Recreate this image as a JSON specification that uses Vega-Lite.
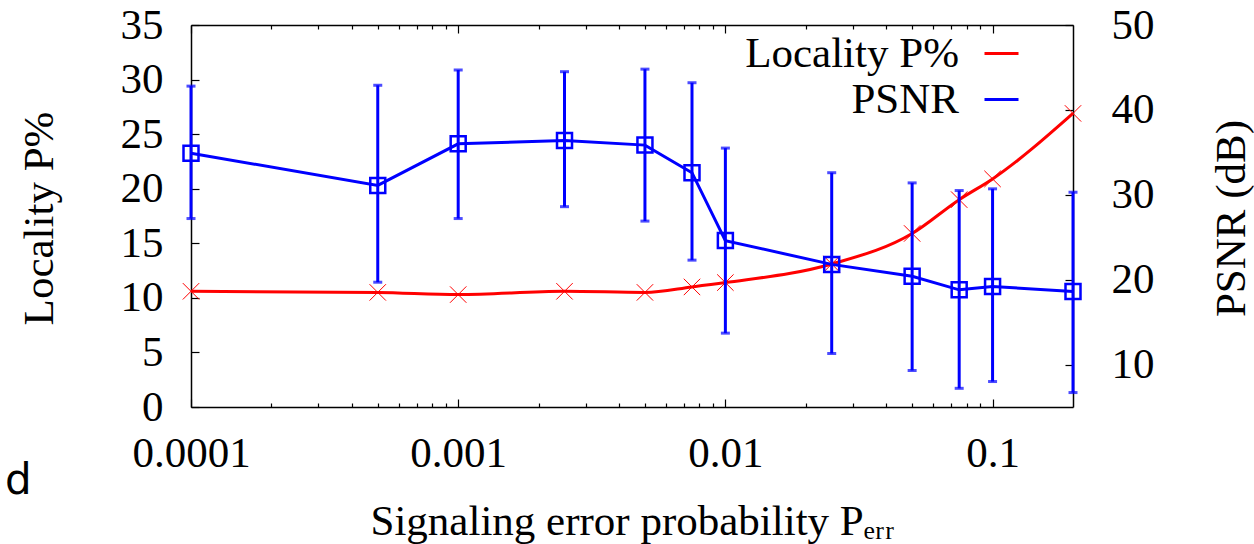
{
  "$schema": "https://vega.github.io/schema/vega-lite/v6.json",
  "width": 882,
  "height": 382,
  "autosize": {"type": "none"},
  "padding": {"left": 191, "top": 25, "right": 181, "bottom": 137},
  "background": "white",
  "config": {
    "view": {"stroke": null},
    "font": "Liberation Serif",
    "axis": {
      "domainColor": "black", "tickColor": "black", "labelColor": "black", "titleColor": "black",
      "labelFont": "Liberation Serif", "titleFont": "Liberation Serif",
      "labelFontSize": 43, "titleFontSize": 43, "titleFontWeight": "normal",
      "grid": false, "domainWidth": 1.5, "tickWidth": 1.2, "labelFlush": false, "labelOverlap": false
    }
  },
  "title": {
    "text": "d", "orient": "bottom", "anchor": "start", "frame": "group",
    "font": "DejaVu Sans", "fontSize": 42, "fontWeight": "normal", "color": "black",
    "dx": -186, "dy": -82, "offset": 0
  },
  "datasets": {
    "loc": [
      {"p": 0.0001, "v": 10.6, "series": "Locality P%"},
      {"p": 0.0005, "v": 10.5, "series": "Locality P%"},
      {"p": 0.001, "v": 10.3, "series": "Locality P%"},
      {"p": 0.0025, "v": 10.6, "series": "Locality P%"},
      {"p": 0.005, "v": 10.5, "series": "Locality P%"},
      {"p": 0.0075, "v": 11.0, "series": "Locality P%"},
      {"p": 0.01, "v": 11.4, "series": "Locality P%"},
      {"p": 0.025, "v": 13.1, "series": "Locality P%"},
      {"p": 0.05, "v": 15.9, "series": "Locality P%"},
      {"p": 0.075, "v": 19.0, "series": "Locality P%"},
      {"p": 0.1, "v": 20.9, "series": "Locality P%"},
      {"p": 0.2, "v": 26.9, "series": "Locality P%"}
    ],
    "psnr": [
      {"p": 0.0001, "psnr": 34.9, "lo": 27.2, "hi": 42.8, "series": "PSNR"},
      {"p": 0.0005, "psnr": 31.1, "lo": 19.7, "hi": 42.9, "series": "PSNR"},
      {"p": 0.001, "psnr": 36.0, "lo": 27.2, "hi": 44.7, "series": "PSNR"},
      {"p": 0.0025, "psnr": 36.4, "lo": 28.6, "hi": 44.5, "series": "PSNR"},
      {"p": 0.005, "psnr": 35.85, "lo": 26.9, "hi": 44.8, "series": "PSNR"},
      {"p": 0.0075, "psnr": 32.6, "lo": 22.3, "hi": 43.2, "series": "PSNR"},
      {"p": 0.01, "psnr": 24.6, "lo": 13.7, "hi": 35.5, "series": "PSNR"},
      {"p": 0.025, "psnr": 21.8, "lo": 11.3, "hi": 32.6, "series": "PSNR"},
      {"p": 0.05, "psnr": 20.4, "lo": 9.3, "hi": 31.4, "series": "PSNR"},
      {"p": 0.075, "psnr": 18.8, "lo": 7.2, "hi": 30.5, "series": "PSNR"},
      {"p": 0.1, "psnr": 19.2, "lo": 8.0, "hi": 30.7, "series": "PSNR"},
      {"p": 0.2, "psnr": 18.6, "lo": 6.7, "hi": 30.3, "series": "PSNR"}
    ]
  },
  "layer": [
    {
      "data": {"name": "loc"},
      "mark": {"type": "line", "strokeWidth": 3, "interpolate": "monotone"},
      "encoding": {
        "x": {
          "field": "p", "type": "quantitative",
          "scale": {"type": "log", "domain": [0.0001, 0.2], "nice": false},
          "axis": {
            "orient": "bottom", "values": [0.0001, 0.001, 0.01, 0.1], "format": ".4~f",
            "tickSize": -8, "labelPadding": 67, "labelBaseline": "alphabetic",
            "title": "Signaling error probability Pₑᵣᵣ", "titleX": 441, "titleY": 127,
            "titleBaseline": "alphabetic", "titleAlign": "center"
          }
        },
        "y": {
          "field": "v", "type": "quantitative",
          "scale": {"domain": [0, 35], "nice": false, "zero": false},
          "axis": {
            "orient": "left", "values": [0, 5, 10, 15, 20, 25, 30, 35],
            "tickSize": -8, "labelPadding": 36, "labelAlign": "right", "labelBaseline": "middle",
            "title": "Locality P%", "titleX": -139, "titleY": 193, "titleAngle": -90,
            "titleBaseline": "alphabetic", "titleAlign": "center"
          }
        },
        "color": {
          "field": "series", "type": "nominal",
          "scale": {"domain": ["Locality P%", "PSNR"], "range": ["#ff0000", "#0000ff"]},
          "legend": {
            "orient": "none", "legendX": 789, "legendY": 7, "title": null, "padding": 0,
            "symbolType": "stroke", "symbolSize": 1156, "symbolStrokeWidth": 3,
            "labelFont": "Liberation Serif", "labelFontSize": 43, "labelColor": "black",
            "labelAlign": "right", "labelOffset": -64, "labelLimit": 0, "rowPadding": 2,
            "labelBaseline": "middle"
          }
        }
      }
    },
    {
      "data": {"name": "loc"},
      "mark": {"type": "point", "shape": "M-1,-1L1,1M-1,1L1,-1", "size": 270, "filled": false, "strokeWidth": 1, "color": "#ff0000", "opacity": 1},
      "encoding": {
        "x": {
          "field": "p", "type": "quantitative",
          "scale": {"type": "log", "domain": [0.0001, 0.2], "nice": false},
          "axis": {
            "orient": "bottom", "values": [0.0002, 0.0003, 0.0004, 0.0005, 0.0006, 0.0007, 0.0008, 0.0009, 0.002, 0.003, 0.004, 0.005, 0.006, 0.007, 0.008, 0.009, 0.02, 0.03, 0.04, 0.05, 0.06, 0.07, 0.08, 0.09],
            "tickSize": -4, "labels": false, "domain": false, "title": null
          }
        },
        "y": {"field": "v", "type": "quantitative", "scale": {"domain": [0, 35], "nice": false, "zero": false}, "axis": null}
      }
    },
    {
      "data": {"name": "psnr"},
      "mark": {"type": "line", "strokeWidth": 3},
      "encoding": {
        "x": {
          "field": "p", "type": "quantitative",
          "scale": {"type": "log", "domain": [0.0001, 0.2], "nice": false},
          "axis": {"orient": "top", "values": [0.0001, 0.001, 0.01, 0.1], "tickSize": -8, "labels": false, "title": null}
        },
        "y": {
          "field": "psnr", "type": "quantitative",
          "scale": {"domain": [5, 50], "nice": false, "zero": false},
          "axis": {
            "orient": "right", "values": [10, 20, 30, 40, 50],
            "tickSize": -8, "labelPadding": 46, "labelAlign": "left", "labelBaseline": "middle",
            "title": "PSNR (dB)", "titleX": 171, "titleY": 193, "titleAngle": -90,
            "titleBaseline": "alphabetic", "titleAlign": "center"
          }
        },
        "color": {"field": "series", "type": "nominal", "scale": {"domain": ["Locality P%", "PSNR"], "range": ["#ff0000", "#0000ff"]}}
      }
    },
    {
      "data": {"name": "psnr"},
      "mark": {"type": "errorbar", "color": "#0000ff", "ticks": true, "size": 9, "thickness": 3},
      "encoding": {
        "x": {"field": "p", "type": "quantitative", "scale": {"type": "log", "domain": [0.0001, 0.2], "nice": false}, "axis": null},
        "y": {"field": "hi", "type": "quantitative", "scale": {"domain": [5, 50], "nice": false, "zero": false}, "axis": null},
        "y2": {"field": "lo"}
      }
    },
    {
      "data": {"name": "psnr"},
      "mark": {"type": "point", "shape": "square", "size": 225, "filled": false, "strokeWidth": 2.5, "color": "#0000ff", "opacity": 1},
      "encoding": {
        "x": {
          "field": "p", "type": "quantitative",
          "scale": {"type": "log", "domain": [0.0001, 0.2], "nice": false},
          "axis": {
            "orient": "top", "values": [0.0002, 0.0003, 0.0004, 0.0005, 0.0006, 0.0007, 0.0008, 0.0009, 0.002, 0.003, 0.004, 0.005, 0.006, 0.007, 0.008, 0.009, 0.02, 0.03, 0.04, 0.05, 0.06, 0.07, 0.08, 0.09],
            "tickSize": -4, "labels": false, "domain": false, "title": null
          }
        },
        "y": {"field": "psnr", "type": "quantitative", "scale": {"domain": [5, 50], "nice": false, "zero": false}, "axis": null}
      }
    }
  ],
  "resolve": {"scale": {"y": "independent"}, "axis": {"x": "independent", "y": "independent"}}
}
